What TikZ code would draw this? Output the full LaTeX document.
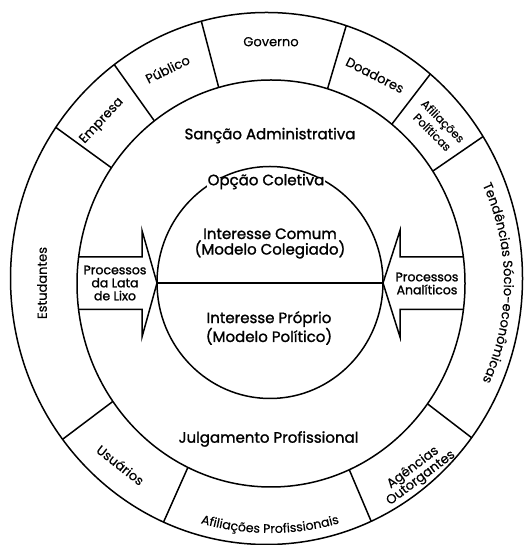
\documentclass[tikz,border=0pt]{standalone}
\usepackage{fontspec}
\setmainfont{Poppins}[FakeBold=0.3]
\newfontfamily\strongfont{Poppins}[FakeBold=1.4]
\usetikzlibrary{decorations.text}
\begin{document}
\begin{tikzpicture}[x=1pt,y=1pt, line width=1.5pt,
  lbl/.style={font=\strongfont\fontsize{15}{15.5}\selectfont, align=center, inner sep=1pt},
  olbl/.style={font=\fontsize{13}{13}\selectfont, align=center, inner sep=1pt},
  albl/.style={font=\strongfont\fontsize{12.5}{13}\selectfont, align=center, inner sep=0pt}]
\useasboundingbox (0,0) rectangle (525,545);
\fill[white] (0,0) rectangle (525,545);
% dividers of the outer ring
\begin{scope}
\clip (266.5,266.5) ellipse [x radius=256, y radius=266];
\foreach \a in {104.7,73.5,125.5,144,52.5,34.5,-37.5,-67,-114,-143}
  \draw (270,262) -- ++(\a:300);
\end{scope}
\fill[white] (271,261.5) ellipse [x radius=194, y radius=203.5];
% rings
\draw (266.5,266.5) ellipse [x radius=256, y radius=266];
\draw (271,261.5) ellipse [x radius=194, y radius=203.5];
\draw (270,262.5) ellipse [x radius=113, y radius=116];
% arrows
\coordinate (ltip) at (157,262);
\coordinate (rtip) at (383,262);
\draw[line join=miter] (78.6,288) -- (142,288) -- (142,314.5) -- (ltip) -- (142,208) -- (142,235.5) -- (78.6,235.5);
\draw[line join=miter] (463.4,288) -- (400,288) -- (400,314.5) -- (rtip) -- (400,208) -- (400,235.5) -- (463.4,235.5);
\draw (ltip) -- (rtip);
% labels
\node[lbl] (sancao) at (270,409.5) {Sanção Administrativa};
\node[lbl, fill=white, inner sep=0pt, inner xsep=1pt, text height=7.5pt, text depth=3pt] (opcao) at (266,362) {Opção Coletiva};
\node[lbl] (comum) at (270,301.5) {Interesse Comum\\(Modelo Colegiado)};
\node[lbl] (proprio) at (269,217) {Interesse Próprio\\(Modelo Político)};
\node[lbl] (julg) at (268.5,106) {Julgamento Profissional};
\node[albl] (plixo) at (115,262) {Processos\\da Lata\\de Lixo};
\node[albl] (panal) at (427,261.5) {Processos\\Analíticos};
% outer ring labels
\node[olbl] (gov) at (271,503.3) {Governo};
\node[olbl, rotate=26] (pub) at (167.5,476) {Público};
\node[olbl, rotate=47] (emp) at (102,424) {Empresa};
\node[olbl, rotate=-27] (doa) at (375,470) {Doadores};
\node[olbl, rotate=-45, font=\fontsize{11.5}{12.5}\selectfont, inner sep=0pt] (afil) at (442,423) {Afiliações};
\node[olbl, rotate=-45, font=\fontsize{11.5}{12.5}\selectfont, inner sep=0pt] (polit) at (432.5,413) {Políticas};
\node[olbl, rotate=37] (agen) at (417,72) {Agências\\Outorgantes};
\node[olbl, rotate=-38] (usu) at (120.5,80) {Usuários};
\node[olbl, rotate=90] (est) at (42,262) {Estudantes};
\path[decorate, decoration={text along path, text align=center,
  text={|\fontsize{13}{13}\selectfont|Tendências Sócio-econômicas}}]
  (270,262) ++(27:234) arc[start angle=27, end angle=-27, radius=234];
\path[decorate, decoration={text along path, text align=center,
  text={|\fontsize{12.5}{13}\selectfont|Afiliações Profissionais}}]
  (270,262) ++(-112:250) arc[start angle=-112, end angle=-68, radius=250];
\end{tikzpicture}
\end{document}
